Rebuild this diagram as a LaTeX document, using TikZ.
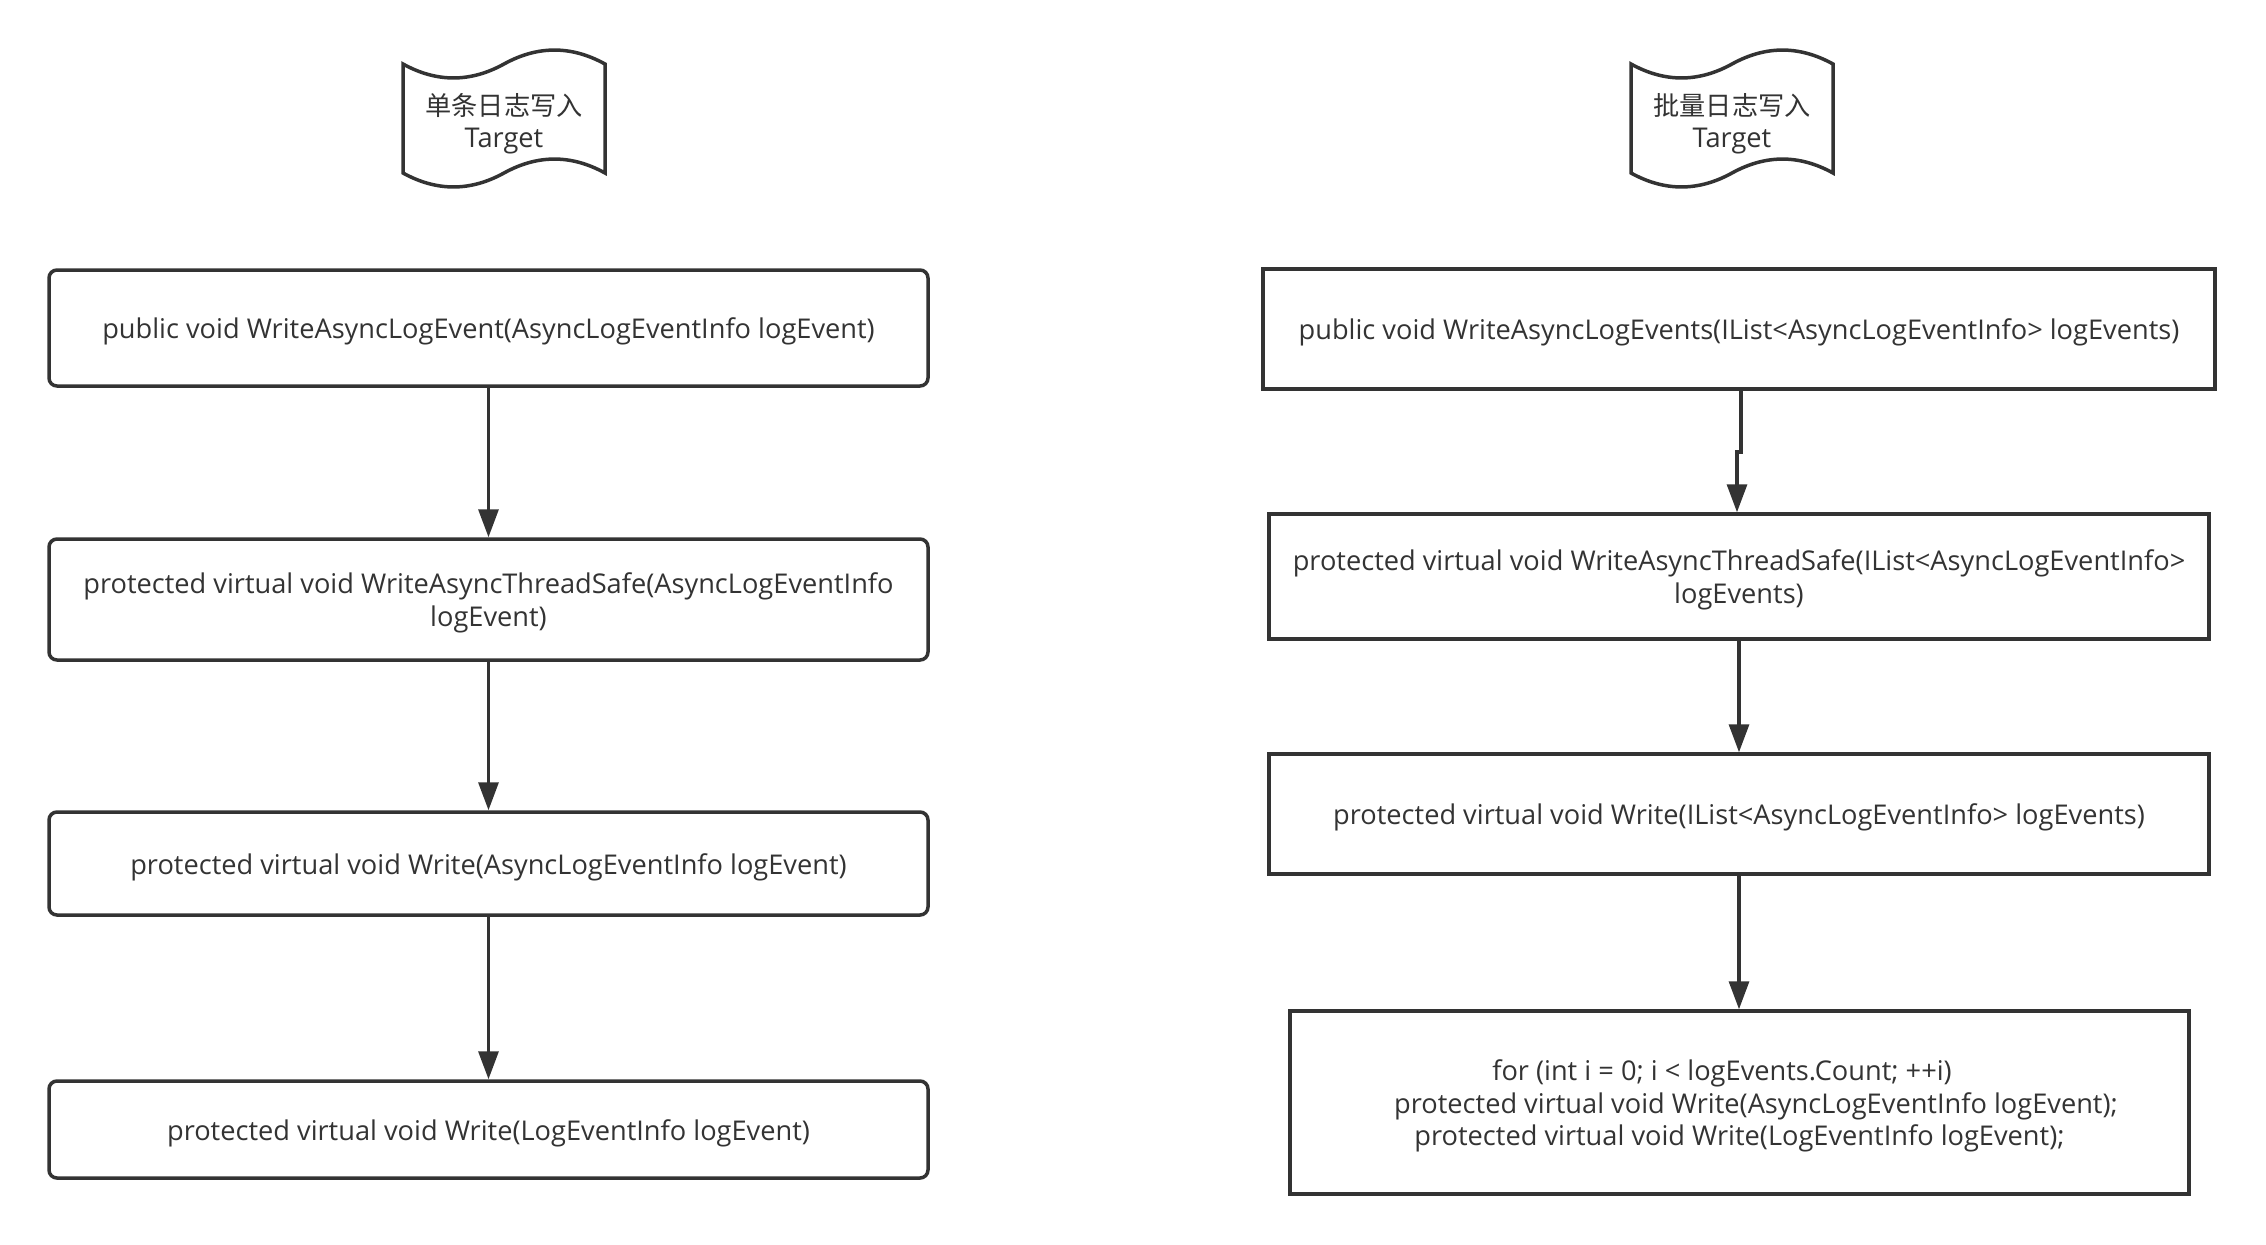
\documentclass[tikz,border=0pt]{standalone}
\usepackage{fontspec}
\setmainfont{Open Sans}
\newfontfamily\cjk{Noto Sans CJK SC}
\usetikzlibrary{arrows.meta}
\definecolor{ink}{HTML}{333333}
\newcommand\ts{\rule{0pt}{1.014em}}
\newcommand\bs{\rule[-0.186em]{0pt}{0pt}}
\begin{document}
\begin{tikzpicture}[x=0.5pt,y=-0.5pt,
  every node/.style={text=ink, font=\fontsize{13.6}{16.4}\selectfont, align=center},
  rbox/.style={draw=ink, line width=1.75pt, rounded corners=4pt, minimum width=439.5pt, inner sep=0pt},
  sbox/.style={draw=ink, line width=1.75pt, inner sep=0pt},
  arr/.style={draw=ink, line width=1.6pt, -{Triangle[length=14pt,width=10pt]}},
  tape/.style={draw=ink, line width=1.75pt, fill=white}]
\useasboundingbox (0,0) rectangle (2266,1244);

% tape shapes
\begin{scope}[shift={(403,48.5)}]
\path[tape] (0,15.5) .. controls (33.67,34.1) and (67.33,34.1) .. (101,15.5)
  .. controls (134.67,-3.1) and (168.33,-3.1) .. (202,15.5) -- (202,124.5)
  .. controls (168.33,105.9) and (134.67,105.9) .. (101,124.5)
  .. controls (67.33,143.1) and (33.67,143.1) .. (0,124.5) -- cycle;
\end{scope}
\begin{scope}[shift={(1631,48.5)}]
\path[tape] (0,15.5) .. controls (33.67,34.1) and (67.33,34.1) .. (101,15.5)
  .. controls (134.67,-3.1) and (168.33,-3.1) .. (202,15.5) -- (202,124.5)
  .. controls (168.33,105.9) and (134.67,105.9) .. (101,124.5)
  .. controls (67.33,143.1) and (33.67,143.1) .. (0,124.5) -- cycle;
\end{scope}
\node (doc1) at (504,121) {\ts{\cjk\fontsize{13.1}{16.4}\selectfont 单条日志写入}\\Target\bs};
\node (doc2) at (1732,121) {\ts{\cjk\fontsize{13.1}{16.4}\selectfont 批量日志写入}\\Target\bs};

% left column
\node[rbox, minimum height=58pt] (l1) at (488.5,328) {\ts public void WriteAsyncLogEvent(AsyncLogEventInfo logEvent)\bs};
\node[rbox, minimum height=60.5pt] (l2) at (488.5,599.5) {\ts protected virtual void WriteAsyncThreadSafe(AsyncLogEventInfo\\logEvent)\bs};
\node[rbox, minimum height=51.5pt] (l3) at (488.5,863.5) {\ts protected virtual void Write(AsyncLogEventInfo logEvent)\bs};
\node[rbox, minimum height=48.5pt] (l4) at (488.5,1129.5) {\ts protected virtual void Write(LogEventInfo logEvent)\bs};

% right column
\node[sbox, minimum width=476pt, minimum height=60pt] (r1) at (1739,329) {\ts public void WriteAsyncLogEvents(IList<AsyncLogEventInfo> logEvents)\bs};
\node[sbox, minimum width=470pt, minimum height=62.5pt] (r2) at (1739,576.5) {\ts protected virtual void WriteAsyncThreadSafe(IList<AsyncLogEventInfo>\\logEvents)\bs};
\node[sbox, minimum width=470pt, minimum height=60pt] (r3) at (1739,814) {\ts protected virtual void Write(IList<AsyncLogEventInfo> logEvents)\bs};
\node[sbox, minimum width=449.5pt, minimum height=91.5pt] (r4) at (1739.5,1102.5) {\ts for (int i = 0; i < logEvents.Count; ++i)\hspace*{17.5pt}\\\hspace*{16.5pt}protected virtual void Write(AsyncLogEventInfo logEvent);\\protected virtual void Write(LogEventInfo logEvent);\bs};

% connectors
\draw[arr] (l1.south) -- (l2.north);
\draw[arr] (l2.south) -- (l3.north);
\draw[arr] (l3.south) -- (l4.north);

\coordinate (j1) at (1741,452);
\coordinate (j2) at (1737,452);
\draw[arr] (r1.south -| j1) -- (j1) -- (j2) -- (j2 |- r2.north);
\draw[arr] (r2.south) -- (r3.north);
\draw[arr] (r3.south) -- (r3.south |- r4.north);
\end{tikzpicture}
\end{document}
